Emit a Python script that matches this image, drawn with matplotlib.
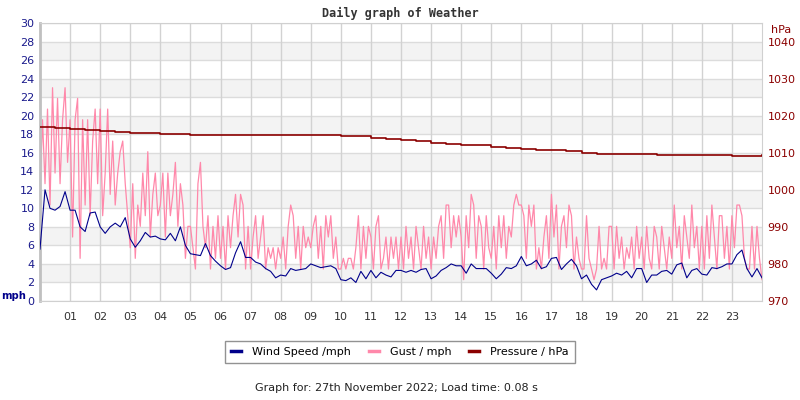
import numpy as np
import matplotlib
matplotlib.use("Agg")
from matplotlib import pyplot as plt
from matplotlib.lines import Line2D

# wind speed (mph), one reading every 10 minutes from 00:00 to 24:00
wind_mph = [
    5.6, 12.0, 10.0, 9.8, 10.2, 11.8, 9.8, 9.8, 8.0, 7.5, 9.5, 9.6,
    8.0, 7.3, 8.0, 8.4, 8.0, 9.0, 6.7, 5.8, 6.5, 7.4, 6.9, 7.0,
    6.7, 6.6, 7.3, 6.5, 8.0, 6.0, 5.1, 5.0, 4.9, 6.2, 4.9, 4.3,
    3.8, 3.4, 3.6, 5.2, 6.4, 4.7, 4.7, 4.2, 4.0, 3.5, 3.2, 2.5,
    2.8, 2.7, 3.5, 3.3, 3.4, 3.5, 4.0, 3.8, 3.6, 3.7, 3.8, 3.5,
    2.3, 2.2, 2.5, 2.0, 3.2, 2.4, 3.3, 2.5, 3.1, 2.8, 2.6, 3.3,
    3.3, 3.1, 3.3, 3.1, 3.4, 3.5, 2.4, 2.7, 3.3, 3.6, 4.0, 3.8,
    3.8, 3.0, 4.0, 3.5, 3.5, 3.5, 3.0, 2.4, 2.9, 3.6, 3.5, 3.8,
    4.8, 3.8, 4.0, 4.4, 3.5, 3.7, 4.6, 4.7, 3.4, 4.0, 4.5, 3.8,
    2.4, 2.8, 1.8, 1.2, 2.3, 2.5, 2.7, 3.0, 2.8, 3.2, 2.5, 3.5,
    3.5, 2.0, 2.8, 2.8, 3.2, 3.3, 2.9, 3.9, 4.1, 2.5, 3.3, 3.5,
    2.9, 2.8, 3.6, 3.5, 3.7, 4.0, 4.0, 5.0, 5.5, 3.5, 2.6, 3.5,
    2.5,
]

# gusts in whole knots, one reading every 5 minutes (12 per hour)
gust_knots = [
    10, 17, 11, 18, 9, 20, 12, 19, 11, 17, 20, 13,   # 00
    17, 6, 17, 19, 4, 17, 9, 17, 8, 15, 18, 11,      # 01
    18, 8, 12, 18, 10, 15, 9, 12, 14, 15, 11, 8,     # 02
    5, 11, 4, 9, 7, 12, 8, 14, 6, 10, 12, 8,         # 03
    9, 12, 6, 12, 8, 10, 13, 7, 11, 9, 4, 7,         # 04
    7, 5, 3, 11, 13, 7, 5, 8, 3, 7, 4, 8,            # 05
    4, 7, 3, 8, 5, 8, 10, 6, 10, 9, 3, 7,            # 06
    3, 6, 8, 4, 6, 8, 3, 5, 4, 5, 3, 5,              # 07
    4, 6, 3, 7, 9, 8, 4, 7, 3, 7, 5, 6,              # 08
    5, 7, 8, 4, 7, 3, 8, 6, 8, 4, 6, 3,              # 09
    3, 4, 3, 4, 4, 3, 5, 8, 3, 7, 4, 7,              # 10
    6, 3, 7, 8, 3, 4, 6, 3, 6, 4, 6, 3,              # 11
    6, 3, 7, 4, 6, 3, 7, 5, 3, 7, 4, 6,              # 12
    3, 6, 4, 7, 8, 4, 9, 9, 5, 8, 6, 8,              # 13
    6, 2, 8, 5, 10, 9, 4, 8, 7, 3, 8, 5,             # 14
    4, 7, 3, 8, 5, 8, 4, 7, 6, 9, 10, 9,             # 15
    9, 8, 4, 9, 7, 9, 3, 5, 3, 6, 8, 4,              # 16
    10, 6, 9, 3, 7, 8, 5, 9, 8, 3, 6, 4,             # 17
    3, 3, 8, 4, 3, 2, 3, 7, 3, 4, 3, 7,              # 18
    7, 3, 7, 4, 6, 3, 5, 4, 6, 3, 7, 4,              # 19
    6, 3, 7, 4, 3, 7, 6, 3, 7, 5, 3, 6,              # 20
    4, 9, 5, 7, 3, 8, 6, 4, 9, 5, 7, 3,              # 21
    7, 3, 8, 4, 9, 6, 3, 8, 8, 4, 7, 3,              # 22
    8, 5, 9, 9, 8, 4, 3, 3, 7, 3, 7, 4,              # 23
    2,
]

# pressure (hPa), every 30 minutes
pressure_hpa = [
    1016.9, 1016.6, 1016.4, 1016.0, 1015.8, 1015.5, 1015.4, 1015.3,
    1015.0, 1015.0, 1014.9, 1014.8, 1014.9, 1014.8, 1014.7, 1014.8,
    1014.7, 1014.7, 1014.8, 1014.8, 1014.6, 1014.4, 1014.1, 1013.7,
    1013.5, 1013.1, 1012.6, 1012.3, 1012.2, 1012.0, 1011.6, 1011.4,
    1011.1, 1010.8, 1010.8, 1010.5, 1009.8, 1009.7, 1009.7, 1009.7,
    1009.7, 1009.5, 1009.5, 1009.5, 1009.5, 1009.4, 1009.2, 1009.2,
    1009.3,
]

hour_labels = [f"{h:02d}" for h in range(1, 24)]
mph_ticks = list(range(0, 31, 2))
hpa_ticks = list(range(970, 1041, 10))

KNOT_TO_MPH = 1.15078
NAVY = "#00008b"
PINK = "#ff88aa"
DARKRED = "#8b0000"


def main():
    wind = np.array(wind_mph)
    gust = np.array(gust_knots) * KNOT_TO_MPH
    pres = np.array(pressure_hpa)
    t_wind = np.arange(len(wind)) / 6.0
    t_gust = np.arange(len(gust)) / 12.0
    t_pres = np.arange(len(pres)) / 2.0

    fig = plt.figure(figsize=(8, 4), dpi=100)
    ax = fig.add_axes([0.05, 0.2475, 0.9025, 0.695])

    # alternating background bands + grid
    for lo in range(2, 30, 4):
        ax.axhspan(lo, lo + 2, color="#f3f3f3", zorder=0, lw=0)
    for y in mph_ticks:
        ax.axhline(y, color="#dcdcdc", lw=1, zorder=0.5)
    for h in range(1, 24):
        ax.axvline(h, color="#d2d2d2", lw=1, zorder=0.6)

    ax.plot(t_gust, gust, color=PINK, lw=0.9, zorder=2)
    ax.plot(t_wind, wind, color=NAVY, lw=0.8, zorder=3)

    ax.set_xlim(0, 24)
    ax.set_ylim(0, 30)
    ax.set_yticks(mph_ticks)
    ax.set_xticks(range(1, 24))
    ax.set_xticklabels(hour_labels)
    ax.tick_params(axis="y", length=0, pad=4, labelsize=8, labelcolor="#1a1a8c")
    ax.tick_params(axis="x", length=0, pad=8, labelsize=8, labelcolor="#333333")
    for side in ["top", "right", "bottom"]:
        ax.spines[side].set_color("#d0d0d0")
    ax.spines["left"].set_color("#c0c0c0")
    ax.spines["left"].set_linewidth(2)

    ax2 = ax.twinx()
    ax2.step(t_pres, pres, where="post", color=DARKRED, lw=1.2, zorder=4)
    ax2.set_ylim(970, 1045)
    ax2.set_yticks(hpa_ticks)
    ax2.tick_params(axis="y", length=0, pad=4, labelsize=8, labelcolor=DARKRED)
    for sp in ax2.spines.values():
        sp.set_visible(False)

    fig.text(0.5, 1 - 13 / 400, "Daily graph of Weather", ha="center", va="center",
             family="DejaVu Sans Mono", weight="bold", fontsize=8.5, color="#333333")
    fig.text(1 / 800, 1 - 296 / 400, "mph", ha="left", va="center",
             weight="bold", fontsize=7.2, color=NAVY)
    fig.text(771 / 800, 1 - 30 / 400, "hPa", ha="left", va="center",
             fontsize=8, color=DARKRED)

    handles = [
        Line2D([], [], color=NAVY, lw=2.5),
        Line2D([], [], color=PINK, lw=2.5),
        Line2D([], [], color=DARKRED, lw=2.5),
    ]
    leg = fig.legend(handles, ["Wind Speed /mph", "Gust / mph", "Pressure / hPa"],
                     loc="center", bbox_to_anchor=(0.5, 1 - 352 / 400), ncol=3,
                     fontsize=8, frameon=True, fancybox=False, handlelength=0.9,
                     handletextpad=1.0, columnspacing=1.6, borderpad=0.5)
    leg.get_frame().set_edgecolor("#777777")
    leg.get_frame().set_linewidth(1)

    fig.text(0.495, 1 - 388 / 400, "Graph for: 27th November 2022; Load time: 0.08 s",
             ha="center", va="center", fontsize=8, color="#222222")

    fig.savefig("out.png", dpi=100)


if __name__ == "__main__":
    main()
